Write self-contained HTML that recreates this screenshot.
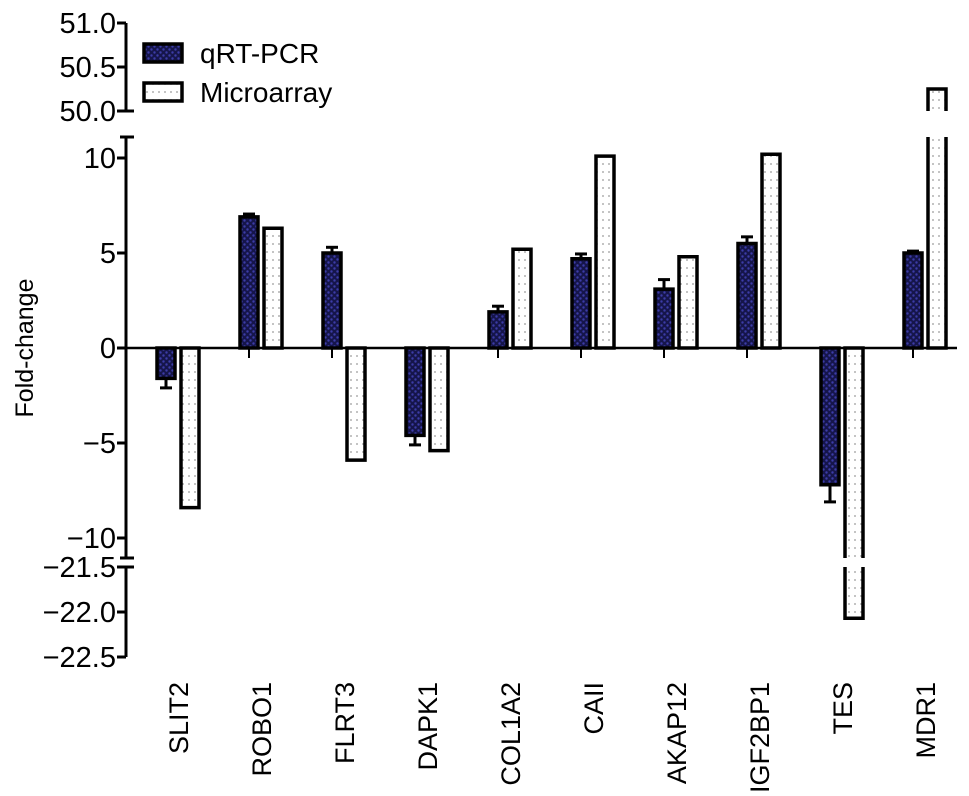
<!DOCTYPE html>
<html><head><meta charset="utf-8">
<style>
body{margin:0;background:#fff;}
svg{display:block;font-family:"Liberation Sans",Arial,sans-serif;}
</style></head>
<body>
<svg id="chart" width="969" height="796" viewBox="0 0 969 796">
<defs>
<pattern id="pq" width="6" height="6" patternUnits="userSpaceOnUse">
<rect width="6" height="6" fill="#15154a"/>
<circle cx="1.5" cy="1.5" r="1.2" fill="#3c3ca8"/>
<circle cx="4.5" cy="4.5" r="1.2" fill="#3c3ca8"/>
</pattern>
<pattern id="pm" width="6" height="8" patternUnits="userSpaceOnUse">
<rect width="6" height="8" fill="#fff"/>
<circle cx="3" cy="4" r="0.9" fill="#999"/>
</pattern>
</defs>
<g id="axes"></g>
<g id="bars"></g>
<text transform="translate(33,348) rotate(-90)" text-anchor="middle" font-size="25">Fold-change</text>
<g>
<rect x="144" y="44" width="38" height="18" fill="url(#pq)" stroke="#000" stroke-width="3.5"/>
<text x="200" y="63" font-size="28">qRT-PCR</text>
<rect x="144" y="83" width="38" height="18" fill="url(#pm)" stroke="#000" stroke-width="3.5"/>
<text x="200" y="102" font-size="28">Microarray</text>
</g>
</svg>
<script>
const categories=["SLIT2","ROBO1","FLRT3","DAPK1","COL1A2","CAII","AKAP12","IGF2BP1","TES","MDR1"];
const qrtValues=[-1.6,6.9,5.0,-4.6,1.9,4.7,3.1,5.5,-7.2,5.0];
const qrtErrors=[0.5,0.15,0.3,0.5,0.3,0.25,0.5,0.35,0.9,0.1];
const microValues=[-8.4,6.3,-5.9,-5.4,5.2,10.1,4.8,10.2,-22.07,50.25];
const midTicks=[10,5,0,-5,-10];
const topTicks=[51.0,50.5,50.0];
const botTicks=[-21.5,-22.0,-22.5];

const NS="http://www.w3.org/2000/svg";
const MID_TOP=11.1, MID_BOT=-11.05;
function yMid(v){return 348-19*v;}
function yTop(v){return 111-88*(v-50);}
function yBot(v){return 567-90*(v+21.5);}
function xGroup(i){return 157+83*i;}
function mk(tag,attrs,parent){const e=document.createElementNS(NS,tag);for(const k in attrs)e.setAttribute(k,attrs[k]);parent.appendChild(e);return e;}
const axes=document.getElementById('axes');
const bars=document.getElementById('bars');
const AX=126;

[[yTop(51),yTop(50)],[137,558],[567,yBot(-22.5)]].forEach((s,i)=>{
  const l=mk('line',{x1:AX,x2:AX,y1:s[0],y2:s[1],stroke:'#000','stroke-width':3},axes);
  
  
});
[137,yTop(50),558,567].forEach(y=>{
  mk('line',{x1:AX-6,x2:AX+8,y1:y,y2:y,stroke:'#000','stroke-width':3},axes);
});
function tick(y,label,name){
  const t=mk('line',{x1:AX-9,x2:AX,y1:y,y2:y,stroke:'#000','stroke-width':3},axes);
  
  
  const tx=mk('text',{x:AX-10,y:y+10,'text-anchor':'end','font-size':29},axes);
  tx.textContent=label;
  
  
}
topTicks.forEach(v=>tick(yTop(v),v.toFixed(1),String(v)));
midTicks.forEach(v=>tick(yMid(v),v<0?'\u2212'+Math.abs(v):String(v),String(v)));
botTicks.forEach(v=>tick(yBot(v),'\u2212'+Math.abs(v).toFixed(1),String(v)));
const z=mk('line',{x1:AX,x2:957,y1:yMid(0),y2:yMid(0),stroke:'#000','stroke-width':2.5},axes);



function seg(x,w,y0,y1,fill,openEnd,name){
  const y=Math.min(y0,y1),h=Math.abs(y1-y0);
  const r=mk('rect',{x:x,y:y,width:w,height:h,fill:fill,stroke:'none'},bars);
  
  
  let d;
  if(openEnd==='base') d=`M${x},${y0} L${x},${y1} L${x+w},${y1} L${x+w},${y0}`;
  else if(openEnd==='value') d=`M${x},${y1} L${x},${y0} L${x+w},${y0} L${x+w},${y1}`;
  else d=`M${x},${y0} L${x},${y1} L${x+w},${y1} L${x+w},${y0} Z`;
  mk('path',{d:d,fill:'none',stroke:'#000','stroke-width':3.5},bars);
}
function drawBar(x,v,fill,name){
  const w=18;
  if(v>MID_TOP){seg(x,w,yMid(0),137,fill,'value',name);seg(x,w,yTop(50),yTop(v),fill,'base',name+'-part2');}
  else if(v<MID_BOT){seg(x,w,yMid(0),558,fill,'value',name);seg(x,w,567,yBot(v),fill,'base',name+'-part2');}
  else seg(x,w,yMid(0),yMid(v),fill,'none',name);
}
categories.forEach((c,i)=>{
  const x=xGroup(i);
  drawBar(x,qrtValues[i],'url(#pq)','bar-qrt-'+c.toLowerCase());
  drawBar(x+24,microValues[i],'url(#pm)','bar-microarray-'+c.toLowerCase());
  const v=qrtValues[i],e=qrtErrors[i],cx=x+9;
  const ye=yMid(v+(v>=0?e:-e));
  const eb=mk('line',{x1:cx,x2:cx,y1:yMid(v),y2:ye,stroke:'#000','stroke-width':3},bars);
  
  
  mk('line',{x1:cx-6,x2:cx+6,y1:ye,y2:ye,stroke:'#000','stroke-width':3},bars);
  if(v>0) mk('line',{x1:cx,x2:cx,y1:yMid(0),y2:yMid(0)+10,stroke:'#000','stroke-width':2},bars);
  const t=mk('text',{transform:`translate(${x+31},682) rotate(-90)`,'text-anchor':'end','font-size':27},axes);
  t.textContent=c;
  
  
});
</script>
</body></html>
